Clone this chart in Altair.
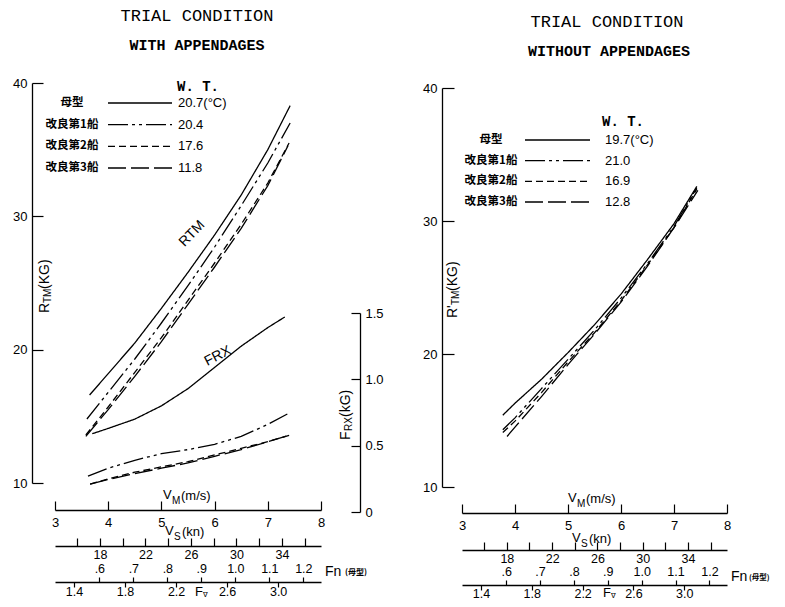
import altair as alt
import pandas as pd

W, H = 769, 591
SANS = "Liberation Sans"
MONO = "Liberation Mono"
CJK = "Noto Sans CJK JP"

# ---------------- data ----------------
ships = ["母型", "改良第1船", "改良第2船", "改良第3船"]
dash_styles = [[1, 0], [20, 4, 3, 4, 3, 4], [7, 4], [18, 5]]
wt_with = ["20.7(°C)", "20.4", "17.6", "11.8"]
wt_without = ["19.7(°C)", "21.0", "16.9", "12.8"]
titles = ["TRIAL CONDITION", "TRIAL CONDITION"]
subtitles = ["WITH APPENDAGES", "WITHOUT APPENDAGES"]

# WITH APPENDAGES : R_TM (kg) vs V_M (m/s)
A_RTM_V0 = [3.65, 4.0, 4.5, 5.0, 5.5, 6.0, 6.5, 7.0, 7.42]
A_RTM_R0 = [16.6, 18.2, 20.5, 23.1, 25.8, 28.6, 31.6, 35.0, 38.3]
A_RTM_V1 = [3.60, 4.0, 4.5, 5.0, 5.5, 6.0, 6.5, 7.0, 7.42]
A_RTM_R1 = [14.8, 16.8, 19.3, 22.0, 24.8, 27.7, 30.8, 34.0, 37.0]
A_RTM_V2 = [3.58, 4.0, 4.5, 5.0, 5.5, 6.0, 6.5, 7.0, 7.40]
A_RTM_R2 = [13.6, 15.7, 18.3, 20.9, 23.7, 26.5, 29.4, 32.5, 35.5]
A_RTM_V3 = [3.58, 4.0, 4.5, 5.0, 5.5, 6.0, 6.5, 7.0, 7.38]
A_RTM_R3 = [13.5, 15.5, 18.0, 20.6, 23.4, 26.2, 29.1, 32.3, 35.3]

# WITH APPENDAGES : F_RX (kg) vs V_M (m/s)
A_FRX_V0 = [3.70, 4.0, 4.5, 5.0, 5.5, 6.0, 6.5, 7.0, 7.32]
A_FRX_F0 = [0.59, 0.63, 0.70, 0.80, 0.93, 1.09, 1.25, 1.39, 1.47]
A_FRX_V1 = [3.62, 4.0, 4.5, 5.0, 5.5, 6.0, 6.5, 7.0, 7.42]
A_FRX_F1 = [0.27, 0.33, 0.39, 0.44, 0.47, 0.51, 0.57, 0.66, 0.75]
A_FRX_V2 = [3.66, 4.0, 4.5, 5.0, 5.5, 6.0, 6.5, 7.0, 7.42]
A_FRX_F2 = [0.21, 0.25, 0.30, 0.34, 0.38, 0.43, 0.48, 0.53, 0.58]
A_FRX_V3 = [3.66, 4.0, 4.5, 5.0, 5.5, 6.0, 6.5, 7.0, 7.42]
A_FRX_F3 = [0.21, 0.245, 0.29, 0.33, 0.37, 0.42, 0.47, 0.53, 0.58]

# WITHOUT APPENDAGES : R'_TM (kg) vs V_M (m/s)
B_RTM_V0 = [3.77, 4.0, 4.5, 5.0, 5.5, 6.0, 6.5, 7.0, 7.43]
B_RTM_R0 = [15.4, 16.3, 18.1, 20.1, 22.2, 24.5, 27.1, 29.8, 32.6]
B_RTM_V1 = [3.77, 4.0, 4.5, 5.0, 5.5, 6.0, 6.5, 7.0, 7.43]
B_RTM_R1 = [14.3, 15.2, 17.4, 19.6, 21.8, 24.2, 26.8, 29.6, 32.5]
B_RTM_V2 = [3.77, 4.0, 4.5, 5.0, 5.5, 6.0, 6.5, 7.0, 7.43]
B_RTM_R2 = [14.1, 14.95, 17.1, 19.4, 21.6, 24.0, 26.7, 29.5, 32.4]
B_RTM_V3 = [3.85, 4.0, 4.5, 5.0, 5.5, 6.0, 6.5, 7.0, 7.45]
B_RTM_R3 = [13.8, 14.5, 16.8, 19.2, 21.5, 23.9, 26.6, 29.5, 32.3]

# axis tick values and the ranges of the auxiliary speed scales
VM_TICKS = [3, 4, 5, 6, 7, 8]
R_TICKS = [10, 20, 30, 40]
FRX_TICKS = [0, 0.5, 1.0, 1.5]
VS_TICKS = [16, 18, 20, 22, 24, 26, 28, 30, 32, 34, 36]
VS_LABELS = [18, 22, 26, 30, 34]
FN_TICKS = [0.6, 0.7, 0.8, 0.9, 1.0, 1.1, 1.2]
FV_TICKS = [1.4, 1.8, 2.2, 2.6, 3.0]
VM_DOMAIN = [3, 8]
VS_DOMAIN = [14.04, 37.44]
FN_DOMAIN = [0.4695, 1.252]
FV_DOMAIN = [1.251, 3.336]


# ---------------- helpers ----------------
def P(v):
    return v - 8


def S(domain, rng):
    return alt.Scale(domain=domain, range=[P(r) for r in rng], nice=False, zero=False)


def off(orient, pos):
    p = P(pos)
    return {"bottom": p - H, "top": -p, "left": -p, "right": p - W}[orient]


def lab_axis(orient, pos, values, fmt=None, expr=None, pad=4, domain=True, tick=0,
             size=13, baseline=None):
    kw = dict(orient=orient, offset=off(orient, pos), title=None, grid=False,
              labelFont=SANS, labelFontSize=size, labelColor="black", labelPadding=pad,
              labelFlush=False, labelOverlap=False, domain=domain, domainColor="black",
              domainWidth=1.3, ticks=tick > 0, tickSize=tick, tickColor="black",
              tickWidth=1.2, values=values)
    if fmt:
        kw["format"] = fmt
    if expr:
        kw["labelExpr"] = expr
    if baseline:
        kw["labelBaseline"] = baseline
    return alt.Axis(**kw)


def tick_axis(orient, pos, size, values):
    return alt.Axis(orient=orient, offset=off(orient, pos), title=None, grid=False,
                    labels=False, domain=False, ticks=True, tickSize=size,
                    tickColor="black", tickWidth=1.2, values=values)


def axis_layer(channel, vals, scale, axis):
    base = alt.Chart(pd.DataFrame({"v": vals})).mark_point(opacity=0, size=1)
    if channel == "x":
        return base.encode(x=alt.X("v:Q", scale=scale, axis=axis), y=alt.value(0))
    return base.encode(y=alt.Y("v:Q", scale=scale, axis=axis), x=alt.value(0))


def txt(t, x, y, size=13, font=SANS, weight="normal", align="left", angle=0):
    kw = dict(font=font, fontSize=size, fontWeight=weight, align=align,
              baseline="middle", color="black")
    if angle:
        kw["angle"] = angle
    return alt.Chart(pd.DataFrame({"t": [t]})).mark_text(**kw).encode(
        x=alt.value(P(x)), y=alt.value(P(y)), text="t:N")


DASH = alt.StrokeDash("ship:N", scale=alt.Scale(domain=ships, range=dash_styles), legend=None)


def frame(series):
    rows = []
    for ship, vs, ys in series:
        rows += [{"ship": ship, "vm": v, "val": y} for v, y in zip(vs, ys)]
    return pd.DataFrame(rows)


def lines(df, xs, ys, xaxis, yaxis):
    return alt.Chart(df).mark_line(color="black", strokeWidth=1.3).encode(
        x=alt.X("vm:Q", scale=xs, axis=xaxis),
        y=alt.Y("val:Q", scale=ys, axis=yaxis),
        strokeDash=DASH)


def legend(wt, lab_x, x1, x2, val_x, y0, y1, hx, hy):
    df = pd.DataFrame({"ship": ships, "row": [0, 1, 2, 3], "wt": wt})
    ys = alt.Y("row:O", scale=alt.Scale(type="point", domain=[0, 1, 2, 3],
                                         range=[P(y0), P(y1)], padding=0), axis=None)
    base = alt.Chart(df)
    return [
        base.mark_rule(color="black", strokeWidth=1.3).encode(
            x=alt.value(P(x1)), x2=alt.value(P(x2)), y=ys, strokeDash=DASH),
        base.mark_text(font=CJK, fontSize=11.5, fontWeight="bold", align="center",
                       baseline="middle", color="black").encode(
            x=alt.value(P(lab_x)), y=ys, text="ship:N"),
        base.mark_text(font=SANS, fontSize=13, align="left", baseline="middle",
                       color="black").encode(x=alt.value(P(val_x)), y=ys, text="wt:N"),
        txt("W. T.", hx, hy, size=14, font=MONO, weight="bold"),
    ]


def speed_axes(xr, vm_y, vs_y, fn_y, fv_pad):
    xvm = S(VM_DOMAIN, xr)
    xvs = S(VS_DOMAIN, xr)
    xfn = S(FN_DOMAIN, xr)
    xfv = S(FV_DOMAIN, xr)
    return [
        axis_layer("x", VM_TICKS, xvm, tick_axis("top", vm_y, 9, VM_TICKS)),
        axis_layer("x", VS_TICKS, xvs, lab_axis("bottom", vs_y, VS_LABELS, fmt="d",
                                                pad=2, size=12.5)),
        axis_layer("x", VS_TICKS, xvs, tick_axis("top", vs_y, 8, VS_TICKS)),
        axis_layer("x", FN_TICKS, xfn, lab_axis(
            "top", fn_y, FN_TICKS, pad=2, tick=5, size=12.5,
            expr="datum.value < 0.95 ? '.' + format(datum.value * 10, '.0f') : format(datum.value, '.1f')")),
        axis_layer("x", FV_TICKS, xfv, lab_axis("bottom", fn_y, FV_TICKS, fmt=".1f",
                                                pad=fv_pad, tick=5, domain=False,
                                                size=12.5, baseline="middle")),
    ]


layers = []

# ---------------- left panel: with appendages ----------------
LX = S(VM_DOMAIN, [55, 321])
LY = S([10, 40], [483, 83])
LF = S([0, 1.5], [512, 313])

dfA = frame([(ships[0], A_RTM_V0, A_RTM_R0), (ships[1], A_RTM_V1, A_RTM_R1),
             (ships[2], A_RTM_V2, A_RTM_R2), (ships[3], A_RTM_V3, A_RTM_R3)])
dfAF = frame([(ships[0], A_FRX_V0, A_FRX_F0), (ships[1], A_FRX_V1, A_FRX_F1),
              (ships[2], A_FRX_V2, A_FRX_F2), (ships[3], A_FRX_V3, A_FRX_F3)])

layers.append(lines(dfA, LX, LY,
                    lab_axis("bottom", 510, VM_TICKS, fmt="d", pad=6),
                    lab_axis("left", 32, R_TICKS, fmt="d", pad=5)))
layers.append(lines(dfAF, LX, LF, None,
                    lab_axis("right", 360, FRX_TICKS, pad=5,
                             expr="datum.value == 0 ? '0' : format(datum.value, '.1f')")))
layers.append(axis_layer("y", R_TICKS, LY, tick_axis("right", 32, 11, R_TICKS)))
layers.append(axis_layer("y", FRX_TICKS, LF, tick_axis("left", 360, 9, FRX_TICKS)))
layers += speed_axes([55, 321], 510, 546, 582, 4)

ann = pd.DataFrame({"vm": [5.575], "val": [28.7], "t": ["RTM"]})
layers.append(alt.Chart(ann).mark_text(font=SANS, fontSize=14, angle=314, color="black").encode(
    x=alt.X("vm:Q", scale=LX, axis=None), y=alt.Y("val:Q", scale=LY, axis=None), text="t:N"))
annf = pd.DataFrame({"vm": [6.06], "val": [1.176], "t": ["FRX"]})
layers.append(alt.Chart(annf).mark_text(font=SANS, fontSize=14, angle=333, color="black").encode(
    x=alt.X("vm:Q", scale=LX, axis=None), y=alt.Y("val:Q", scale=LF, axis=None), text="t:N"))

layers += legend(wt_with, 72, 108, 172, 178, 103, 168, 177, 87)
layers += [
    txt(titles[0], 197, 16, size=17, font=MONO, align="center"),
    txt(subtitles[0], 197, 45, size=15, font=MONO, weight="bold", align="center"),
    txt("R", 45, 313, size=14, angle=270),
    txt("TM", 48, 303, size=10, angle=270),
    txt("(KG)", 45, 289, size=14, angle=270),
    txt("F", 346, 440, size=14, angle=270),
    txt("RX", 349, 431, size=10, angle=270),
    txt("(kG)", 346, 417, size=14, angle=270),
    txt("V", 163, 495), txt("M", 172, 501, size=10), txt("(m/s)", 181, 496),
    txt("V", 165, 531), txt("S", 174, 537, size=10), txt("(kn)", 182, 532),
    txt("Fn", 325, 572, size=14), txt("(母型)", 345, 573, size=8, font=CJK, weight="bold"),
    txt("F", 195, 592), txt("∇", 203, 595, size=7),
]

# ---------------- right panel: without appendages ----------------
RX = S(VM_DOMAIN, [462, 727])
RY = S([10, 40], [487, 88])

dfB = frame([(ships[0], B_RTM_V0, B_RTM_R0), (ships[1], B_RTM_V1, B_RTM_R1),
             (ships[2], B_RTM_V2, B_RTM_R2), (ships[3], B_RTM_V3, B_RTM_R3)])
layers.append(lines(dfB, RX, RY,
                    lab_axis("bottom", 513, VM_TICKS, fmt="d", pad=6),
                    lab_axis("left", 442, R_TICKS, fmt="d", pad=5)))
layers.append(axis_layer("y", R_TICKS, RY, tick_axis("right", 442, 12, R_TICKS)))
layers += speed_axes([462, 727], 513, 550, 585, 3)
layers += legend(wt_without, 491, 525, 590, 605, 140, 202, 602, 122)
layers += [
    txt(titles[1], 607, 22, size=17, font=MONO, align="center"),
    txt(subtitles[1], 609, 51, size=15, font=MONO, weight="bold", align="center"),
    txt("R'", 453, 318, size=14, angle=270),
    txt("TM", 456, 305, size=10, angle=270),
    txt("(KG)", 453, 291, size=14, angle=270),
    txt("V", 568, 498), txt("M", 577, 504, size=10), txt("(m/s)", 586, 499),
    txt("V", 572, 538), txt("S", 581, 544, size=10), txt("(kn)", 589, 539),
    txt("Fn", 731, 577, size=14), txt("(母型)", 749, 578, size=7.5, font=CJK, weight="bold"),
    txt("F", 603, 593), txt("∇", 611, 596, size=7),
]

chart = alt.layer(*layers).resolve_scale(x="independent", y="independent").properties(
    width=W, height=H, autosize=alt.AutoSizeParams(type="none"), padding=0,
    background="white",
).configure_view(stroke=None)

chart.save("out.html", embed_options={"renderer": "svg", "actions": False})
